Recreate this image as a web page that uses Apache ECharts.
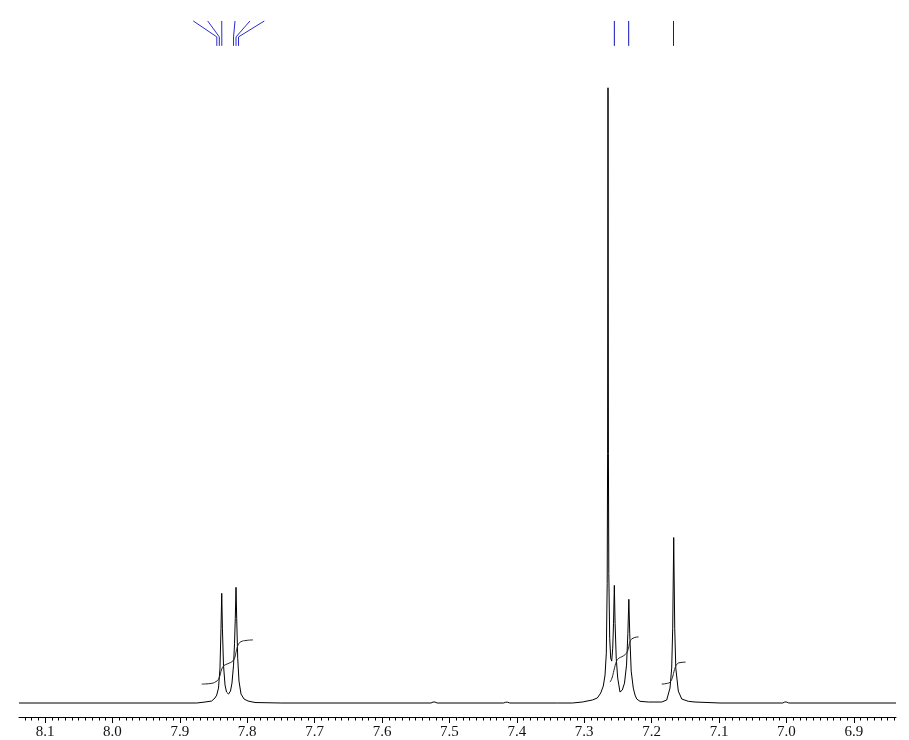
<!DOCTYPE html>
<html>
<head>
<meta charset="utf-8">
<script src="https://cdn.jsdelivr.net/npm/echarts@6/dist/echarts.min.js"></script>
<style>html,body{margin:0;padding:0;background:#fff}#c{width:909px;height:740px}</style>
</head>
<body>
<div id="c"></div>
<script>
// ppm range shown
const ppmMin = 6.8374, ppmMax = 8.1386;
// tick labels (ppm)
const tickLabels = [8.1, 8.0, 7.9, 7.8, 7.7, 7.6, 7.5, 7.4, 7.3, 7.2, 7.1, 7.0, 6.9];

// spectrum segments [ppm, intensity]
const specLeft = [[8.1386,0],[7.9442,0],[7.8749,0],[7.8626,1],[7.8527,2],[7.8478,5],[7.8452,8],[7.8426,15],[7.8404,35],[7.8389,75],[7.8378,110],[7.8368,75],[7.8352,38],[7.8329,18],[7.8307,11],[7.8277,9],[7.8248,12],[7.8226,20],[7.8203,38],[7.8188,60],[7.8177,85],[7.8166,116],[7.8156,85],[7.8141,45],[7.8122,22],[7.8092,9],[7.8047,4],[7.7988,2],[7.7884,0.5],[7.75,0]];
const specMid = [[7.5273,0],[7.5243,1],[7.5228,2.5],[7.5213,1],[7.5183,0],[7.4195,0],[7.4165,0.8],[7.4150,2],[7.4135,0.8],[7.4105,0],[7.34,0]];
const specRight = [[7.3177,0],[7.3028,1],[7.2880,3],[7.2806,5],[7.2755,10],[7.2717,17],[7.2691,28],[7.2672,50],[7.2659,120],[7.2653,250],[7.2647,617],[7.2641,250],[7.2635,130],[7.2622,65],[7.2607,45],[7.2592,42],[7.2577,55],[7.2565,80],[7.2553,118],[7.2542,80],[7.2525,45],[7.2503,25],[7.2469,11],[7.2435,13],[7.2402,20],[7.2372,38],[7.2352,70],[7.2338,104],[7.2325,70],[7.2303,32],[7.2272,15],[7.2246,8],[7.2221,4],[7.2172,1.7],[7.2049,1],[7.1850,1],[7.1776,3],[7.1727,15],[7.1702,35],[7.1687,75],[7.1672,166],[7.1657,75],[7.1641,35],[7.1604,12],[7.1553,4],[7.1455,1.7],[7.1356,1],[7.0985,0]];
const specEnd = [[7.0055,0],[7.0025,1],[7.0010,3],[6.9995,1],[6.9965,0],[6.8374,0]];

// integral curves
const integral1 = [[7.8675,19],[7.8552,19.5],[7.8463,21.5],[7.8418,25],[7.8378,34],[7.8344,37.5],[7.8285,39.5],[7.8226,41.5],[7.8188,45],[7.8159,53],[7.8129,59],[7.8092,61.5],[7.8018,62.7],[7.7914,63.3]];
const integral2 = [[7.2617,21],[7.2588,25],[7.2558,33],[7.2518,42.3],[7.2484,45],[7.2439,46.5],[7.2380,49.5],[7.2343,55],[7.2320,61.5],[7.2276,65],[7.2194,66.3]];
const integral3 = [[7.1850,19],[7.1786,19.5],[7.1727,21],[7.1690,26],[7.1660,33.5],[7.1623,39],[7.1579,40.5],[7.1497,41]];

// peak pick marks: [label top ppm, peak ppm]
const picksLeft = [[7.8800,7.8451],[7.8586,7.8414],[7.8378,7.8377],[7.8181,7.8203],[7.7959,7.8166],[7.7746,7.8129]];
const picksRight = [7.2553, 7.2340, 7.1675];
const pickTop = 684, pickKink = 668, pickBottom = 659;

const minorTicks = [];
for (let i = 684; i <= 813; i++) minorTicks.push(i / 100);

const spectrum = specLeft.concat(specMid, specRight, specEnd);

const series = [{
  type: 'line', data: spectrum, showSymbol: false, symbol: 'none', smooth: false,
  lineStyle: {color: '#000', width: 1}
}];
[integral1, integral2, integral3].forEach(d => series.push({
  type: 'line', data: d, symbol: 'none', smooth: true, lineStyle: {color: '#222', width: 1}
}));
picksLeft.forEach(p => series.push({
  type: 'line', data: [[p[0], pickTop], [p[1], pickKink], [p[1], pickBottom]], symbol: 'none',
  lineStyle: {color: '#2a2ad0', width: 1}
}));
picksRight.forEach(p => series.push({
  type: 'line', data: [[p, pickTop], [p, pickBottom]], symbol: 'none',
  lineStyle: {color: '#1010c0', width: 1}
}));

const chart = echarts.init(document.getElementById('c'), null, {renderer: 'canvas'});
chart.setOption({
  animation: false,
  backgroundColor: '#fff',
  grid: {left: 19, right: 13, top: 5, bottom: 30},
  xAxis: [{
    type: 'value', inverse: true, min: ppmMin, max: ppmMax, position: 'bottom', offset: 9,
    axisLine: {show: true, onZero: false, lineStyle: {color: '#000', width: 1}},
    axisTick: {show: true, length: 6, customValues: tickLabels, lineStyle: {color: '#000'}},
    axisLabel: {show: true, customValues: tickLabels, margin: 8, color: '#111',
      fontFamily: 'Liberation Serif', fontSize: 15, formatter: v => v.toFixed(1)},
    splitLine: {show: false}
  }, {
    type: 'value', inverse: true, min: ppmMin, max: ppmMax, position: 'bottom', offset: 9,
    axisLine: {show: false, onZero: false},
    axisTick: {show: true, length: 3.5, customValues: minorTicks, lineStyle: {color: '#000'}},
    axisLabel: {show: false},
    splitLine: {show: false}
  }],
  yAxis: {type: 'value', min: -5, max: 700, show: false, splitLine: {show: false}},
  series: series
});
</script>
</body>
</html>
